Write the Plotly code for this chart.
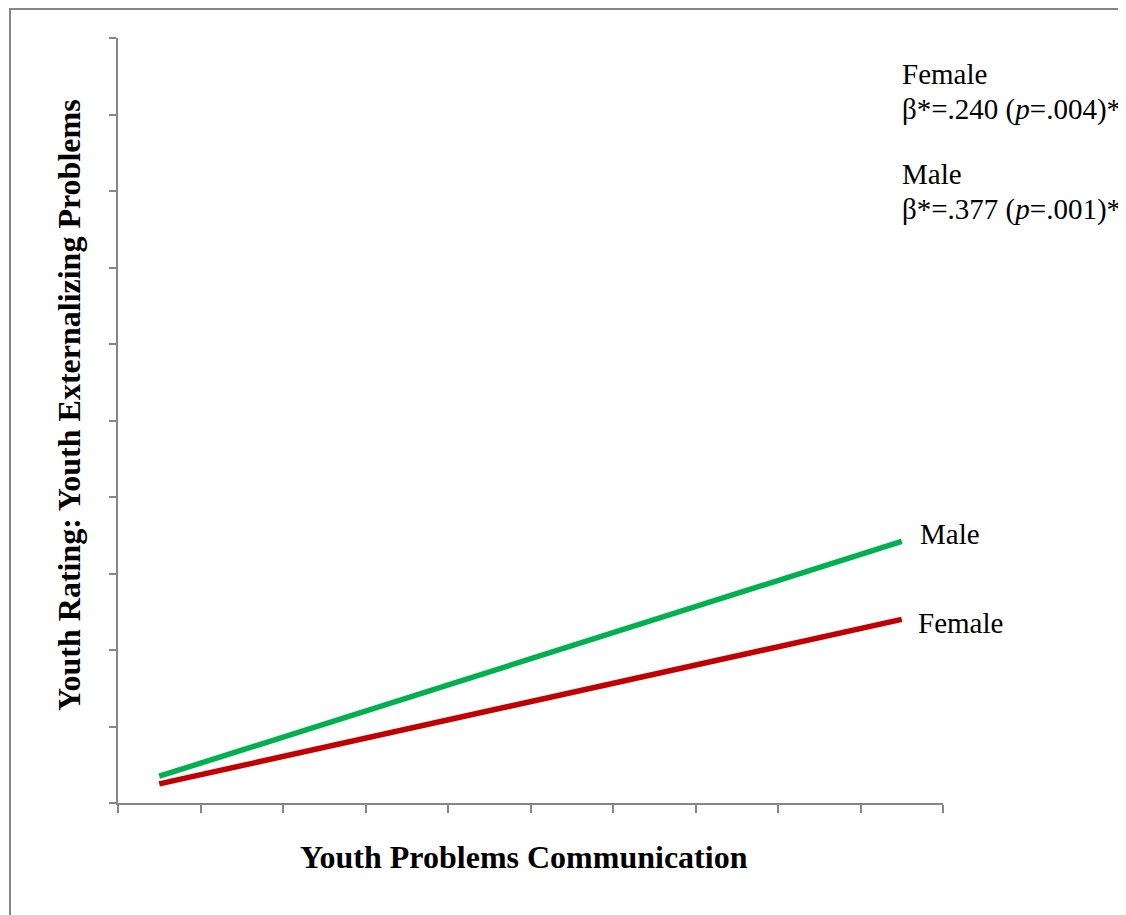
import plotly.graph_objects as go

# Data
x_points = [0.5, 9.5]
male_values = [0.35, 3.42]
female_values = [0.25, 2.40]
series_names = ["Male", "Female"]
x_title = "Youth Problems Communication"
y_title = "Youth Rating: Youth Externalizing Problems"
stats_lines = ["Female", "β*=.240 (<i>p</i>=.004)*", "Male", "β*=.377 (<i>p</i>=.001)*"]

# The page body adds an 8px offset, so the figure is 8px smaller.
OFF = 8
W, H = 1126 - OFF, 915 - OFF
# plot area in page pixels: x 118..943, y 38..803
PX0, PX1, PY0, PY1 = 118, 943, 38, 803
L, T = PX0 - OFF, PY0 - OFF
R, B = W - (PX1 - OFF), H - (PY1 - OFF)
pw, ph = PX1 - PX0, PY1 - PY0

def px(xp):
    return (xp - PX0) / pw

def py(yp):
    return (PY1 - yp) / ph

FONT = "Liberation Serif, Times New Roman, serif"
AX = "#868686"

fig = go.Figure()
fig.add_trace(go.Scatter(x=x_points, y=male_values, mode="lines", name=series_names[0],
                         line=dict(color="#00B050", width=5.5), showlegend=False))
fig.add_trace(go.Scatter(x=x_points, y=female_values, mode="lines", name=series_names[1],
                         line=dict(color="#C00000", width=5.5), showlegend=False))

# End labels
fig.add_annotation(x=px(918), y=py(534), xref="paper", yref="paper", text=series_names[0],
                   showarrow=False, xanchor="left", yanchor="middle",
                   font=dict(family=FONT, size=29, color="black"))
fig.add_annotation(x=px(916), y=py(623), xref="paper", yref="paper", text=series_names[1],
                   showarrow=False, xanchor="left", yanchor="middle",
                   font=dict(family=FONT, size=29, color="black"))

# Stats text
for txt, yp in zip(stats_lines, [74, 109, 174, 209]):
    fig.add_annotation(x=px(900), y=py(yp), xref="paper", yref="paper", text=txt,
                       showarrow=False, xanchor="left", yanchor="middle",
                       font=dict(family=FONT, size=29, color="black"))

# Axis titles
fig.add_annotation(x=px(69), y=py(405), xref="paper", yref="paper", text=f"<b>{y_title}</b>",
                   showarrow=False, textangle=-90, xanchor="center", yanchor="middle",
                   font=dict(family=FONT, size=32, color="black"))
fig.add_annotation(x=px(524), y=py(857), xref="paper", yref="paper", text=f"<b>{x_title}</b>",
                   showarrow=False, xanchor="center", yanchor="middle",
                   font=dict(family=FONT, size=32, color="black"))

# Outer border
fig.add_shape(type="rect", xref="paper", yref="paper",
              x0=px(10), x1=px(1126 + 20), y0=py(915 + 20), y1=py(9),
              line=dict(color=AX, width=2), fillcolor="rgba(0,0,0,0)", layer="below")

fig.update_layout(
    width=W, height=H,
    margin=dict(l=L, r=R, t=T, b=B, autoexpand=False),
    paper_bgcolor="white", plot_bgcolor="white",
    font=dict(family=FONT, color="black"),
)
fig.update_xaxes(range=[0, 10], tickmode="linear", tick0=0, dtick=1,
                 showticklabels=False, ticks="outside", ticklen=8, tickwidth=1.5, tickcolor=AX,
                 showline=True, linecolor=AX, linewidth=2, showgrid=False, zeroline=False)
fig.update_yaxes(range=[0, 10], tickmode="linear", tick0=0, dtick=1,
                 showticklabels=False, ticks="outside", ticklen=7, tickwidth=1.5, tickcolor=AX,
                 showline=True, linecolor=AX, linewidth=2, showgrid=False, zeroline=False)

fig.write_html("out.html")
